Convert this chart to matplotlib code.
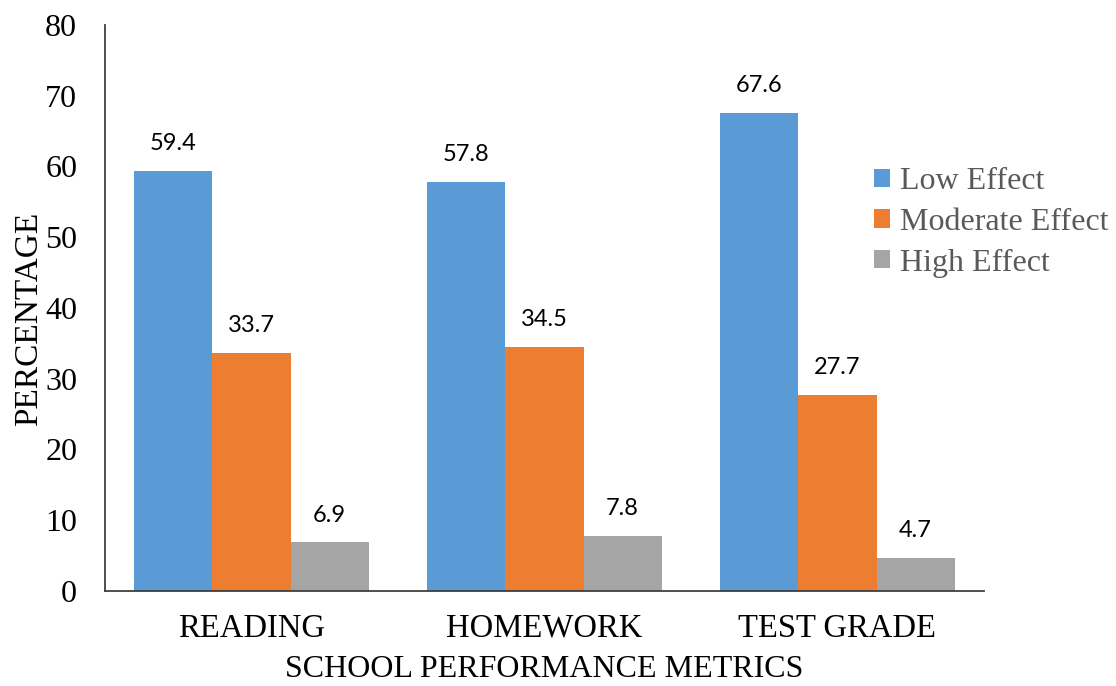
import numpy as np
import matplotlib.pyplot as plt

# data
metrics = ['READING', 'HOMEWORK', 'TEST GRADE']
series_names = ['Low Effect', 'Moderate Effect', 'High Effect']
low_effect = [59.4, 57.8, 67.6]
moderate_effect = [33.7, 34.5, 27.7]
high_effect = [6.9, 7.8, 4.7]
colors = ['#5B9BD5', '#ED7D31', '#A5A5A5']

serif = 'Liberation Serif'

fig = plt.figure(figsize=(11.16, 6.86), dpi=100)
ax = fig.add_axes([0.0941, 0.1385, 0.7876, 0.8251])

x = np.arange(len(metrics))
width = 0.8 / 3
for i, (vals, name) in enumerate(zip([low_effect, moderate_effect, high_effect],
                                     series_names)):
    bars = ax.bar(x + (i - 1) * width, vals, width, color=colors[i], label=name)
    ax.bar_label(bars, labels=['%.1f' % v for v in vals], padding=12,
                 fontsize=17, family='Lato', color='black')

ax.set_xlim(-0.5, 2.5)
ax.set_ylim(0, 80)
ax.set_yticks(range(0, 81, 10))
ax.set_xticks(x)
ax.set_xticklabels(metrics)

for lab in ax.get_yticklabels():
    lab.set_family(serif)
    lab.set_fontsize(23)
for lab in ax.get_xticklabels():
    lab.set_family(serif)
    lab.set_fontsize(23.5)
ax.tick_params(axis='y', length=0, pad=20)
ax.tick_params(axis='x', length=0, pad=16)

for s in ['top', 'right']:
    ax.spines[s].set_visible(False)
for s in ['left', 'bottom']:
    ax.spines[s].set_color('#404040')
    ax.spines[s].set_linewidth(1.3)

ax.set_ylabel('PERCENTAGE', family=serif, fontsize=24)
ax.set_xlabel('SCHOOL PERFORMANCE METRICS', family=serif, fontsize=23)
ax.yaxis.set_label_coords(-0.069, 0.48)
ax.xaxis.set_label_coords(0.5, -0.113)

fig.legend(loc='upper left', bbox_to_anchor=(874 / 1116, 1 - 167 / 686),
           frameon=False, prop={'family': serif, 'size': 23},
           labelcolor='#595959', handlelength=0.5, handleheight=0.5,
           handletextpad=0.3, labelspacing=0.37, borderpad=0, borderaxespad=0)

fig.savefig('out.png', dpi=100)
